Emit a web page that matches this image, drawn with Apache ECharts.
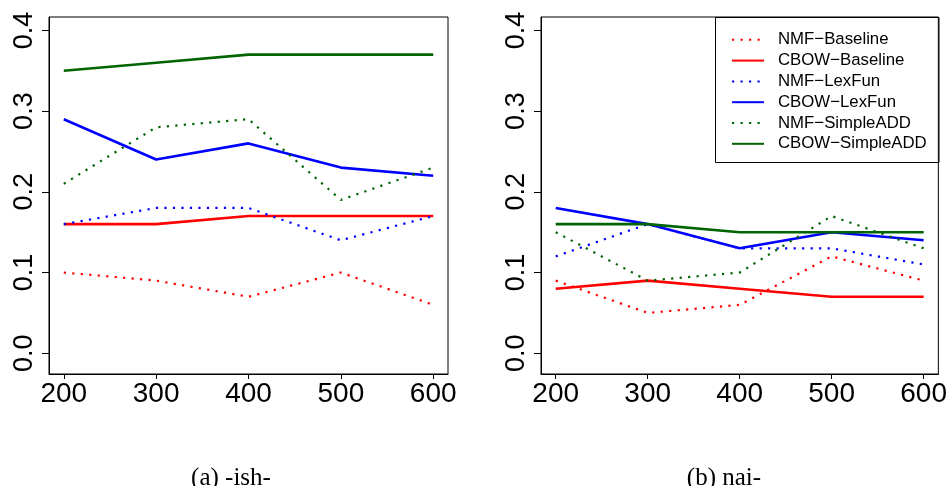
<!DOCTYPE html>
<html>
<head>
<meta charset="utf-8">
<script src="https://cdn.jsdelivr.net/npm/echarts@6/dist/echarts.min.js"></script>
<style>
  html, body { margin: 0; padding: 0; background: #fff; }
  #chart { width: 950px; height: 486px; }
</style>
</head>
<body>
<div id="chart"></div>
<script>
// Vector dimensions on the x axis
const dims = [200, 300, 400, 500, 600];
const yTicks = [0, 0.1, 0.2, 0.3, 0.4];
const yTickLabels = ['0.0', '0.1', '0.2', '0.3', '0.4'];

const seriesNames = ['NMF\u2212Baseline', 'CBOW\u2212Baseline', 'NMF\u2212LexFun',
                     'CBOW\u2212LexFun', 'NMF\u2212SimpleADD', 'CBOW\u2212SimpleADD'];

// (a) -ish-
const ishNmfBaseline   = [0.10, 0.09, 0.07, 0.10, 0.06];
const ishCbowBaseline  = [0.16, 0.16, 0.17, 0.17, 0.17];
const ishNmfLexFun     = [0.16, 0.18, 0.18, 0.14, 0.17];
const ishCbowLexFun    = [0.29, 0.24, 0.26, 0.23, 0.22];
const ishNmfSimpleAdd  = [0.21, 0.28, 0.29, 0.19, 0.23];
const ishCbowSimpleAdd = [0.35, 0.36, 0.37, 0.37, 0.37];

// (b) nai-
const naiNmfBaseline   = [0.09, 0.05, 0.06, 0.12, 0.09];
const naiCbowBaseline  = [0.08, 0.09, 0.08, 0.07, 0.07];
const naiNmfLexFun     = [0.12, 0.16, 0.13, 0.13, 0.11];
const naiCbowLexFun    = [0.18, 0.16, 0.13, 0.15, 0.14];
const naiNmfSimpleAdd  = [0.15, 0.09, 0.10, 0.17, 0.13];
const naiCbowSimpleAdd = [0.16, 0.16, 0.15, 0.15, 0.15];

const captions = ['(a) -ish-', '(b) nai-'];

const panels = [
  [ishNmfBaseline, ishCbowBaseline, ishNmfLexFun, ishCbowLexFun, ishNmfSimpleAdd, ishCbowSimpleAdd],
  [naiNmfBaseline, naiCbowBaseline, naiNmfLexFun, naiCbowLexFun, naiNmfSimpleAdd, naiCbowSimpleAdd]
];

const colors = ['#ff0000', '#ff0000', '#0000ff', '#0000ff', '#006400', '#006400'];
const dotted = [true, false, true, false, true, false];

const sans = 'Liberation Sans, Arial, Helvetica, sans-serif';

const grids = [
  { left: 49, top: 17, width: 399, height: 357 },
  { left: 541, top: 17, width: 398, height: 357 }
];

const xAxes = grids.map((g, i) => ({
  type: 'value',
  gridIndex: i,
  min: 184,
  max: 616,
  splitLine: { show: false },
  axisLine: { show: true, onZero: false, lineStyle: { color: '#000', width: 1 } },
  axisTick: { show: true, length: 5, customValues: dims, lineStyle: { color: '#000', width: 1 } },
  axisLabel: {
    customValues: dims,
    fontFamily: sans, fontSize: 28, color: '#000', margin: 6
  }
}));

const yAxes = grids.map((g, i) => ({
  type: 'value',
  gridIndex: i,
  min: -0.0257,
  max: 0.4166,
  splitLine: { show: false },
  axisLine: { show: true, onZero: false, lineStyle: { color: '#000', width: 1 } },
  axisTick: { show: true, length: 7, customValues: yTicks, lineStyle: { color: '#000', width: 1 } },
  axisLabel: {
    customValues: yTicks,
    rotate: 90,
    fontFamily: sans, fontSize: 27, color: '#000', margin: 11,
    formatter: v => yTickLabels[yTicks.findIndex(t => Math.abs(t - v) < 1e-9)]
  }
}));

const series = [];
panels.forEach((panel, p) => {
  panel.forEach((vals, k) => {
    series.push({
      name: seriesNames[k],
      type: 'line',
      xAxisIndex: p,
      yAxisIndex: p,
      symbol: 'none',
      silent: true,
      animation: false,
      data: dims.map((d, j) => [d, vals[j]]),
      lineStyle: {
        color: colors[k],
        width: dotted[k] ? 2.2 : 2.6,
        type: dotted[k] ? [2.2, 6.3] : 'solid',
        cap: 'butt'
      },
      itemStyle: { color: colors[k] }
    });
  });
});

const chart = echarts.init(document.getElementById('chart'), null, { renderer: 'canvas' });
chart.setOption({
  animation: false,
  backgroundColor: '#fff',
  grid: grids.map(g => Object.assign({ show: true, borderColor: '#000', borderWidth: 1, backgroundColor: 'transparent', containLabel: false }, g)),
  xAxis: xAxes,
  yAxis: yAxes,
  legend: {
    data: seriesNames,
    orient: 'vertical',
    left: 731,
    top: 31.3,
    padding: 0,
    itemWidth: 32,
    itemHeight: 14,
    itemGap: 3.8,
    selectedMode: false,
    itemStyle: { opacity: 0 },
    textStyle: { fontFamily: sans, fontSize: 16.8, color: '#000', padding: [0, 0, 0, 9] }
  },
  graphic: [
    {
      type: 'rect',
      shape: { x: 715.5, y: 17.5, width: 223.5, height: 145 },
      style: { fill: 'none', stroke: '#000', lineWidth: 1 },
      z: 5, silent: true
    },
    {
      type: 'text', x: 231, y: 478,
      style: { text: captions[0], font: '25px "Liberation Serif", "Times New Roman", serif', fill: '#000', textAlign: 'center', textVerticalAlign: 'middle' }
    },
    {
      type: 'text', x: 724, y: 478,
      style: { text: captions[1], font: '25px "Liberation Serif", "Times New Roman", serif', fill: '#000', textAlign: 'center', textVerticalAlign: 'middle' }
    }
  ],
  series: series
});
</script>
</body>
</html>
